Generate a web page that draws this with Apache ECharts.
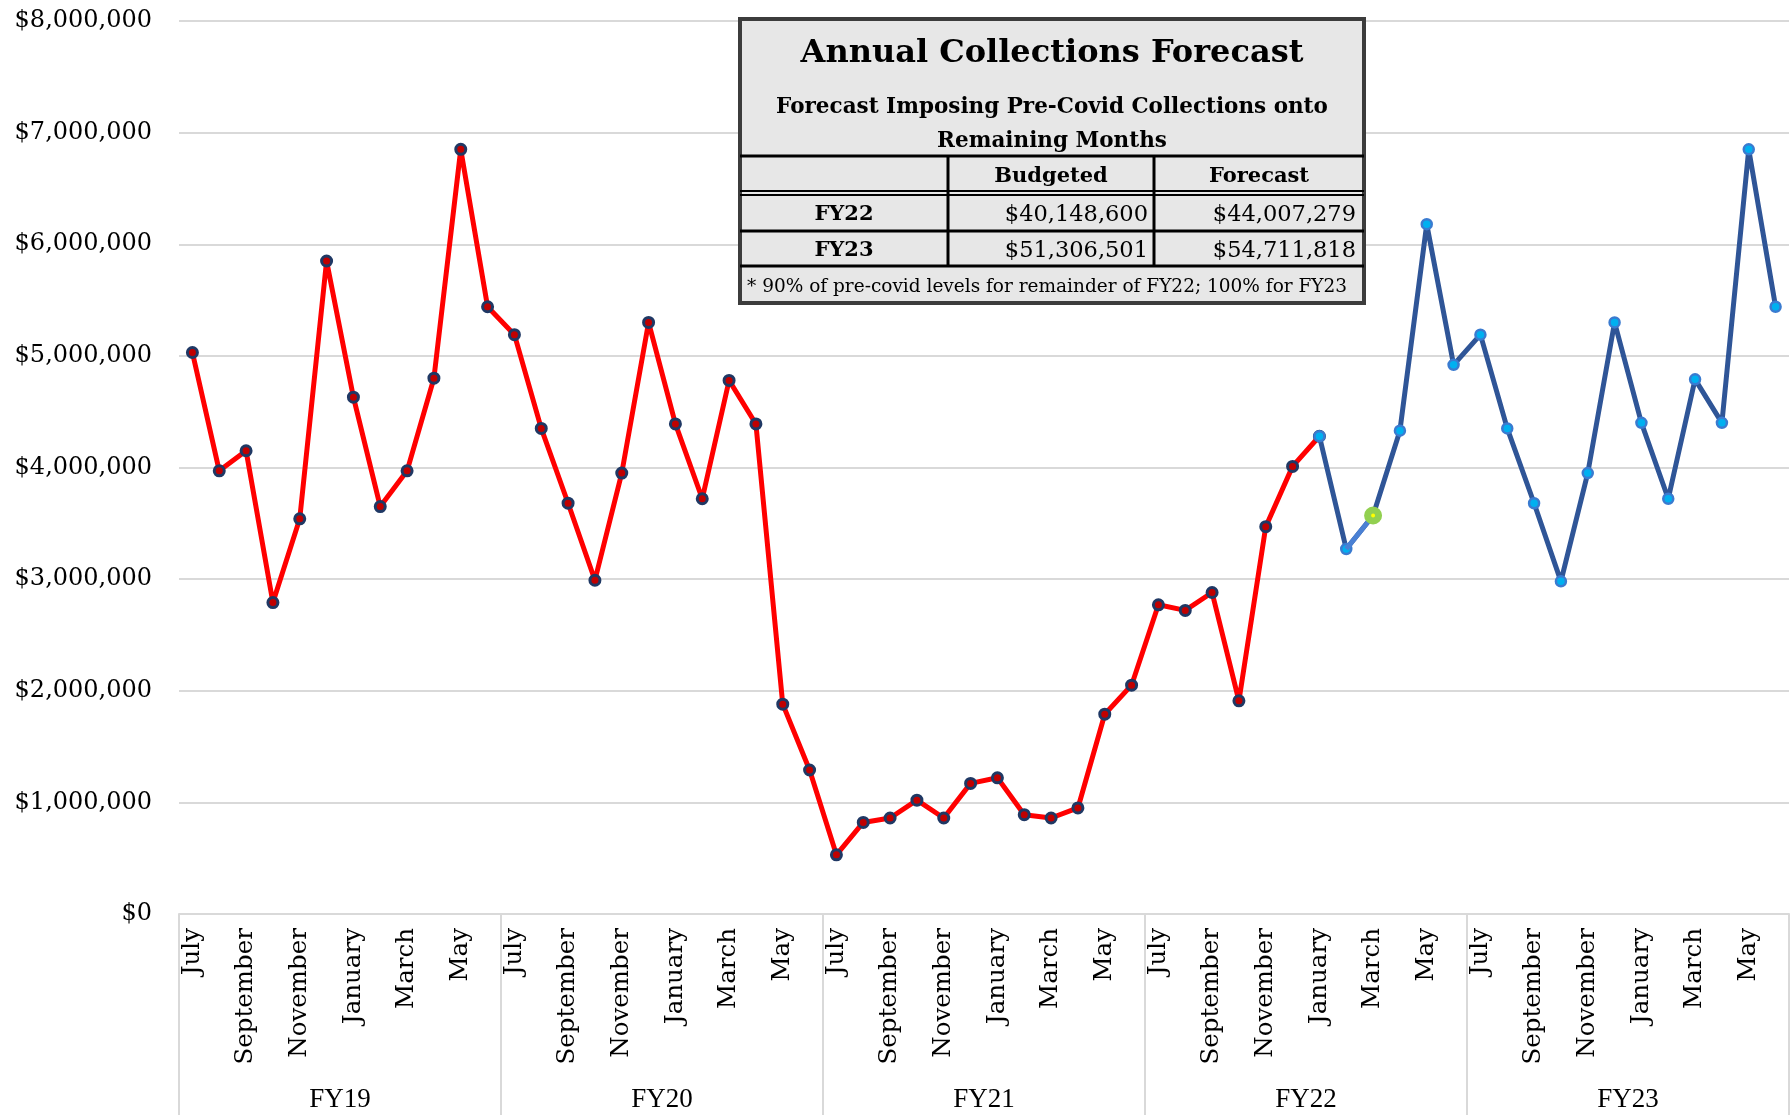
<!DOCTYPE html>
<html>
<head>
<meta charset="utf-8">
<title>Annual Collections Forecast</title>
<script src="https://cdn.jsdelivr.net/npm/echarts/dist/echarts.min.js"></script>
<style>
  html, body { margin: 0; padding: 0; background: #fff; }
  #main { width: 1791px; height: 1115px; }
</style>
</head>
<body>
<div id="main"></div>
<script>
// month names of a fiscal year, and the fiscal years shown
var monthNames = ['July', 'August', 'September', 'October', 'November', 'December',
  'January', 'February', 'March', 'April', 'May', 'June'];
var fiscalYears = ['FY19', 'FY20', 'FY21', 'FY22', 'FY23'];

// actual collections, FY19 July .. FY22 January
var actualValues = [
  5030000, 3970000, 4150000, 2790000, 3540000, 5850000, 4630000, 3650000, 3970000, 4800000, 6850000, 5440000,
  5190000, 4350000, 3680000, 2990000, 3950000, 5300000, 4390000, 3720000, 4780000, 4390000, 1880000, 1290000,
  530000, 820000, 860000, 1020000, 860000, 1170000, 1220000, 890000, 860000, 950000, 1790000, 2050000,
  2770000, 2720000, 2880000, 1910000, 3470000, 4010000, 4280000
];
// forecast, FY22 January .. FY23 June
var forecastValues = [
  4280000, 3270000, 3570000, 4330000, 6180000, 4920000,
  5190000, 4350000, 3680000, 2980000, 3950000, 5300000, 4400000, 3720000, 4790000, 4400000, 6850000, 5440000
];
var forecastStart = 42;   // FY22 January
var markedIndex = 44;     // FY22 March

// table in the top box
var tableTitle = 'Annual Collections Forecast';
var tableSubtitle = ['Forecast Imposing Pre-Covid Collections onto', 'Remaining Months'];
var tableHeader = ['Budgeted', 'Forecast'];
var tableRows = ['FY22', 'FY23'];
var budgeted = ['$40,148,600', '$51,306,501'];
var forecast = ['$44,007,279', '$54,711,818'];
var tableNote = '* 90% of pre-covid levels for remainder of FY22; 100% for FY23';

var months = [];
fiscalYears.forEach(function () {
  monthNames.forEach(function (m) { months.push(m); });
});

var actualData = months.map(function (m, i) {
  return i < actualValues.length ? actualValues[i] : null;
});
var forecastData = months.map(function (m, i) {
  return i >= forecastStart ? forecastValues[i - forecastStart] : null;
});
// lighter segment ending in the green marker
var markData = months.map(function (m, i) {
  if (i === markedIndex - 1) return { value: forecastData[i], symbol: 'none' };
  if (i === markedIndex) return forecastData[i];
  return null;
});

function money(v) {
  return '$' + String(v).replace(/\B(?=(\d{3})+(?!\d))/g, ',');
}

var serif = 'DejaVu Serif';
var tx = 740, ty = 19, tw = 624, th = 284;
var col1 = 948, col2 = 1154;

function txt(text, x, y, size, weight, align) {
  return {
    type: 'text', z: 110,
    style: {
      text: text, x: x, y: y,
      font: (weight || 'normal') + ' ' + size + 'px "' + serif + '"',
      fill: '#000', textAlign: align || 'center', textVerticalAlign: 'middle'
    }
  };
}
function hline(y, w) {
  return { type: 'line', z: 105, shape: { x1: tx, y1: y, x2: tx + tw, y2: y },
    style: { stroke: '#000', lineWidth: w || 3 } };
}
function vline(x, y1, y2) {
  return { type: 'line', z: 105, shape: { x1: x, y1: y1, x2: x, y2: y2 },
    style: { stroke: '#000', lineWidth: 3 } };
}

var tableGraphic = [
  { type: 'rect', z: 100, shape: { x: tx, y: ty, width: tw, height: th },
    style: { fill: '#e7e7e7', stroke: '#3c3c3c', lineWidth: 4 } },
  txt(tableTitle, 1052, 54, 32, 'bold'),
  txt(tableSubtitle[0], 1052, 107.5, 21.5, 'bold'),
  txt(tableSubtitle[1], 1052, 141.5, 21.5, 'bold'),
  hline(156),
  vline(col1, 156, 266),
  vline(col2, 156, 266),
  txt(tableHeader[0], (col1 + col2) / 2, 177, 21, 'bold'),
  txt(tableHeader[1], (col2 + tx + tw) / 2, 177, 21, 'bold'),
  hline(191, 2),
  hline(195, 2),
  hline(231),
  hline(266),
  txt(tableNote, 747, 287, 18.5, 'normal', 'left')
];
tableRows.forEach(function (r, i) {
  var y = 215 + i * 36;
  tableGraphic.push(txt(r, (tx + col1) / 2, y, 21, 'bold'));
  tableGraphic.push(txt(budgeted[i], col2 - 6, y, 22.5, 'normal', 'right'));
  tableGraphic.push(txt(forecast[i], tx + tw - 8, y, 22.5, 'normal', 'right'));
});

var myChart = echarts.init(document.getElementById('main'));
var option = {
  backgroundColor: '#fff',
  animation: false,
  grid: { left: 179, right: 2, top: 21, bottom: 201, containLabel: false },
  xAxis: [{
    type: 'category',
    data: months,
    boundaryGap: true,
    axisLine: { lineStyle: { color: '#d9d9d9', width: 2 } },
    axisTick: { show: false },
    axisLabel: {
      interval: 1, rotate: 90, margin: 14,
      fontFamily: serif, fontSize: 24.5, color: '#000'
    }
  }, {
    type: 'category',
    data: fiscalYears,
    position: 'bottom',
    boundaryGap: true,
    axisLine: { show: false },
    axisTick: { show: true, length: 205, lineStyle: { color: '#d9d9d9', width: 2 } },
    axisLabel: { margin: 172, fontFamily: 'Liberation Serif', fontSize: 27, color: '#000' }
  }],
  yAxis: {
    type: 'value',
    min: 0, max: 8000000, interval: 1000000,
    axisLine: { show: false },
    axisTick: { show: false },
    splitLine: { lineStyle: { color: '#d9d9d9', width: 2 } },
    axisLabel: {
      margin: 27, fontFamily: serif, fontSize: 24, color: '#000',
      formatter: money
    }
  },
  graphic: tableGraphic,
  series: [{
    name: 'Actual',
    type: 'line',
    data: actualData,
    symbol: 'circle',
    symbolSize: 10,
    lineStyle: { color: '#ff0000', width: 5 },
    itemStyle: { color: '#c00000', borderColor: '#1f3864', borderWidth: 3 },
    z: 3
  }, {
    name: 'Forecast',
    type: 'line',
    data: forecastData,
    symbol: 'circle',
    symbolSize: 10,
    lineStyle: { color: '#2f5597', width: 5 },
    itemStyle: { color: '#00b0f0', borderColor: '#3a7bd0', borderWidth: 2.5 },
    z: 4
  }, {
    name: 'Marked',
    type: 'line',
    data: markData,
    symbol: 'circle',
    symbolSize: 11,
    lineStyle: { color: '#4a80d4', width: 5 },
    itemStyle: { color: '#ffff00', borderColor: '#92d050', borderWidth: 7 },
    z: 5
  }]
};
myChart.setOption(option);
</script>
</body>
</html>
